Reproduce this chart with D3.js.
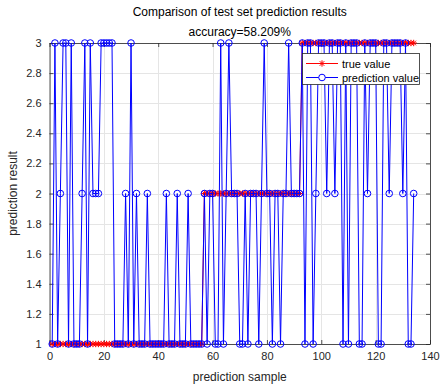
<!DOCTYPE html>
<html>
<head>
<meta charset="utf-8">
<script src="https://cdn.jsdelivr.net/npm/d3@7"></script>
<style>
html,body{margin:0;padding:0;background:#fff;}
svg{display:block;font-family:"Liberation Sans",Arial,Helvetica,sans-serif;}
</style>
</head>
<body>
<svg id="chart" width="444" height="386"></svg>
<script>
// ---- data ----
const titleLines = ["Comparison of test set prediction results", "accuracy=58.209%"];
const xLabel = "prediction sample";
const yLabel = "prediction result";
const seriesNames = ["true value", "prediction value"];
const xTicks = [0, 20, 40, 60, 80, 100, 120, 140];
const yTicks = [1, 1.2, 1.4, 1.6, 1.8, 2, 2.2, 2.4, 2.6, 2.8, 3];

const trueValues = [
  1,1,1,1,1,1,1,1,1,1, 1,1,1,1,1,1,1,1,1,1,
  1,1,1,1,1,1,1,1,1,1, 1,1,1,1,1,1,1,1,1,1,
  1,1,1,1,1,1,1,1,1,1, 1,1,1,1,1,1,
  2,2,2,2, 2,2,2,2,2,2,2,2,2,2, 2,2,2,2,2,2,2,2,2,2,
  2,2,2,2,2,2,2,2,2,2, 2,2,
  3,3,3,3,3,3,3,3, 3,3,3,3,3,3,3,3,3,3, 3,3,3,3,3,3,3,3,3,3,
  3,3,3,3,3,3,3,3,3,3, 3,3,3,3
];
const predValues = [
  1,3,1,2,3,3,1,3,1,1, 1,2,3,1,3,2,2,2,3,3,
  3,3,3,1,1,1,1,2,1,3, 1,2,1,1,1,2,1,1,1,1,
  1,1,2,1,1,1,2,1,1,1, 2,1,1,1,1,1,
  2,1,2,2, 1,1,3,1,2,3,2,2,2,1, 1,2,1,2,2,2,1,2,3,2,
  2,1,2,2,1,2,2,3,2,2, 2,2,
  3,1,3,3,1,2,3,3, 3,2,3,3,2,3,3,1,3,1, 3,3,3,1,1,3,2,3,3,3,
  1,1,3,3,2,3,3,3,3,2, 3,1,1,2
];

// ---- chart ----
const svg = d3.select("#chart");
const pL = 49.5, pR = 430, pT = 43, pB = 344;
const axisColor = "#262626";

const x = d3.scaleLinear().domain([0, 140]).range([pL, pR]);
const y = d3.scaleLinear().domain([1, 3]).range([pB, pT]);

// grid
const grid = svg.append("g");
grid.selectAll("line.gx").data(xTicks).enter().append("line")
  .attr("x1", d => Math.round(x(d)) + 0.5).attr("x2", d => Math.round(x(d)) + 0.5)
  .attr("y1", pT).attr("y2", pB)
  .attr("stroke", "#e5e5e5").attr("stroke-width", 1);
grid.selectAll("line.gy").data(yTicks).enter().append("line")
  .attr("y1", d => Math.round(y(d)) + 0.5).attr("y2", d => Math.round(y(d)) + 0.5)
  .attr("x1", pL).attr("x2", pR)
  .attr("stroke", "#e5e5e5").attr("stroke-width", 1);

// axes using d3 axis
const fmt = d => String(+d.toFixed(1));
const xAxis = svg.append("g").attr("transform", `translate(0,${pB})`)
  .call(d3.axisBottom(x).tickValues(xTicks).tickSizeInner(-4).tickSizeOuter(0).tickPadding(8).tickFormat(fmt));
const yAxis = svg.append("g").attr("transform", `translate(${pL},0)`)
  .call(d3.axisLeft(y).tickValues(yTicks).tickSizeInner(-4).tickSizeOuter(0).tickPadding(8).tickFormat(fmt));
const xAxisTop = svg.append("g").attr("transform", `translate(0,${pT})`)
  .call(d3.axisTop(x).tickValues(xTicks).tickSizeInner(-4).tickSizeOuter(0).tickFormat(""));
const yAxisRight = svg.append("g").attr("transform", `translate(${pR},0)`)
  .call(d3.axisRight(y).tickValues(yTicks).tickSizeInner(-4).tickSizeOuter(0).tickFormat(""));
[xAxis, yAxis, xAxisTop, yAxisRight].forEach(g => {
  g.selectAll("path").attr("stroke", axisColor).attr("stroke-width", 0.8);
  g.selectAll("line").attr("stroke", axisColor).attr("stroke-width", 0.8);
  g.selectAll("text").attr("fill", axisColor).style("font-size", "11px")
    .style("font-family", "'Liberation Sans',Arial,sans-serif");
});

// series
const truePts = trueValues.map((v, i) => [i + 1, v]);
const predPts = predValues.map((v, i) => [i + 1, v]);
const line = d3.line().x(d => x(d[0])).y(d => y(d[1]));

svg.append("path").datum(truePts).attr("d", line)
  .attr("fill", "none").attr("stroke", "#ff0000").attr("stroke-width", 1);

function star(g, cx, cy, s, color) {
  const a = s * 0.72;
  g.append("path")
    .attr("d", `M${cx - s},${cy}L${cx + s},${cy}M${cx},${cy - s}L${cx},${cy + s}` +
      `M${cx - a},${cy - a}L${cx + a},${cy + a}M${cx - a},${cy + a}L${cx + a},${cy - a}`)
    .attr("stroke", color).attr("stroke-width", 1).attr("fill", "none");
}
const starG = svg.append("g");
truePts.forEach(p => star(starG, x(p[0]), y(p[1]), 3.2, "#ff0000"));

svg.append("path").datum(predPts).attr("d", line)
  .attr("fill", "none").attr("stroke", "#0000ff").attr("stroke-width", 1);
svg.append("g").selectAll("circle").data(predPts).enter().append("circle")
  .attr("cx", d => x(d[0])).attr("cy", d => y(d[1])).attr("r", 3.3)
  .attr("fill", "none").attr("stroke", "#0000ff").attr("stroke-width", 1);

// title
svg.append("text").attr("x", (pL + pR) / 2).attr("y", 16).attr("text-anchor", "middle")
  .style("font-size", "12px").attr("fill", "#000").text(titleLines[0]);
svg.append("text").attr("x", (pL + pR) / 2).attr("y", 36).attr("text-anchor", "middle")
  .style("font-size", "12px").attr("fill", "#000").text(titleLines[1]);

// axis labels
svg.append("text").attr("x", (pL + pR) / 2).attr("y", 381).attr("text-anchor", "middle")
  .style("font-size", "12px").attr("fill", axisColor).text(xLabel);
svg.append("text").attr("transform", `translate(17,${(pT + pB) / 2}) rotate(-90)`)
  .attr("text-anchor", "middle").style("font-size", "12px").attr("fill", axisColor).text(yLabel);

// legend
const lg = svg.append("g");
lg.append("rect").attr("x", 302.5).attr("y", 53.5).attr("width", 117).attr("height", 31)
  .attr("fill", "#fff").attr("stroke", axisColor).attr("stroke-width", 0.8);
const legendY = [63.5, 77.5];
const legendColors = ["#ff0000", "#0000ff"];
seriesNames.forEach((name, i) => {
  lg.append("line").attr("x1", 306).attr("x2", 338).attr("y1", legendY[i]).attr("y2", legendY[i])
    .attr("stroke", legendColors[i]).attr("stroke-width", 1);
  if (i === 0) star(lg, 322, legendY[i], 3.2, legendColors[i]);
  else lg.append("circle").attr("cx", 322).attr("cy", legendY[i]).attr("r", 3.3)
    .attr("fill", "#fff").attr("stroke", legendColors[i]).attr("stroke-width", 1);
  lg.append("text").attr("x", 342).attr("y", legendY[i] + 4).style("font-size", "11px")
    .attr("fill", "#000").text(name);
});
</script>
</body>
</html>
